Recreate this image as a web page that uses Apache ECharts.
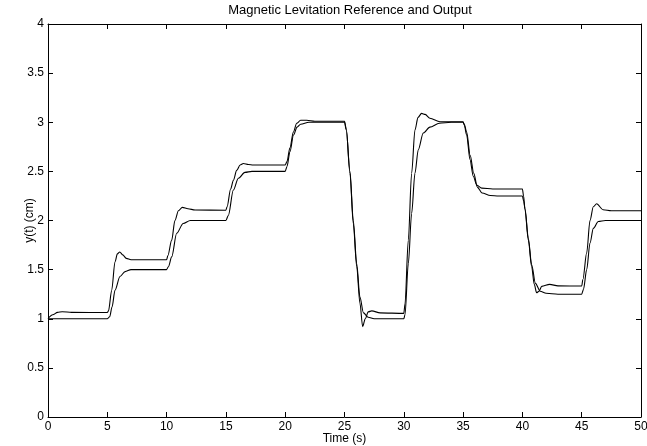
<!DOCTYPE html>
<html>
<head>
<meta charset="utf-8">
<script src="https://cdn.jsdelivr.net/npm/echarts@6/dist/echarts.min.js"></script>
<style>
html,body{margin:0;padding:0;background:#fff;}
#c{width:647px;height:446px;}
</style>
</head>
<body>
<div id="c"></div>
<script>
// Reference (smooth filtered steps)
const refT = [0, 5.0, 5.2, 5.4, 5.65, 6.07, 6.5, 7.0, 10.0, 10.15, 10.43, 10.85, 11.4, 12.0, 15.0, 15.2, 15.63, 16.05, 16.6, 17.2, 20.0, 20.15, 20.4, 20.7, 21.0, 21.3, 22.0, 25.0, 25.15, 25.46, 25.74, 26.03, 26.3, 26.6, 27.0, 27.5, 30.0, 30.1, 30.38, 30.66, 30.94, 31.22, 31.64, 32.2, 33.0, 34.0, 35.0, 35.1, 35.3, 35.6, 35.9, 36.2, 36.6, 37.3, 38.0, 40.0, 40.1, 40.22, 40.5, 40.78, 41.1, 41.5, 42.0, 43.0, 45.0, 45.15, 45.42, 45.7, 45.98, 46.4, 47.0, 50.0];
const refY = [1.0, 1.0, 1.02, 1.12, 1.29, 1.43, 1.48, 1.5, 1.5, 1.53, 1.63, 1.87, 1.97, 2.0, 2.0, 2.05, 2.31, 2.43, 2.49, 2.5, 2.5, 2.55, 2.7, 2.87, 2.95, 2.98, 3.0, 3.0, 2.92, 2.5, 2.0, 1.56, 1.22, 1.06, 1.015, 1.0, 1.0, 1.04, 1.56, 2.07, 2.48, 2.72, 2.89, 2.95, 2.99, 3.0, 3.0, 2.98, 2.9, 2.66, 2.48, 2.34, 2.28, 2.255, 2.25, 2.25, 2.2, 2.12, 1.82, 1.55, 1.36, 1.28, 1.26, 1.25, 1.25, 1.3, 1.5, 1.77, 1.92, 1.99, 2.0, 2.0];
// Output (with overshoot)
const outT = [0, 0.4, 0.8, 1.2, 2.0, 5.0, 5.1, 5.37, 5.65, 5.85, 6.05, 6.3, 6.6, 7.0, 10.0, 10.1, 10.43, 10.7, 11.0, 11.33, 11.8, 12.4, 15.0, 15.1, 15.4, 15.63, 15.91, 16.2, 16.47, 16.9, 17.3, 20.0, 20.15, 20.4, 20.69, 20.97, 21.3, 21.8, 22.5, 25.0, 25.15, 25.46, 25.74, 26.03, 26.3, 26.53, 26.75, 27.0, 27.3, 28.0, 30.0, 30.1, 30.38, 30.66, 30.94, 31.2, 31.5, 31.8, 32.2, 33.05, 35.0, 35.1, 35.3, 35.58, 35.86, 36.15, 36.57, 37.5, 40.0, 40.1, 40.22, 40.5, 40.78, 41.0, 41.2, 41.4, 41.63, 42.3, 43.0, 45.0, 45.1, 45.42, 45.7, 45.98, 46.26, 46.8, 47.5, 50.0];
const outY = [1.0, 1.04, 1.065, 1.072, 1.065, 1.063, 1.08, 1.29, 1.58, 1.66, 1.68, 1.65, 1.615, 1.6, 1.6, 1.64, 1.8, 2.0, 2.1, 2.134, 2.12, 2.107, 2.105, 2.14, 2.32, 2.41, 2.51, 2.565, 2.58, 2.57, 2.565, 2.565, 2.6, 2.74, 2.9, 2.99, 3.02, 3.02, 3.01, 3.01, 2.93, 2.48, 1.97, 1.53, 1.16, 0.92, 1.0, 1.07, 1.08, 1.06, 1.055, 1.15, 1.8, 2.48, 2.92, 3.05, 3.09, 3.08, 3.04, 3.005, 3.005, 2.97, 2.87, 2.62, 2.45, 2.36, 2.33, 2.32, 2.32, 2.25, 2.11, 1.8, 1.53, 1.35, 1.265, 1.28, 1.33, 1.35, 1.335, 1.333, 1.4, 1.67, 2.0, 2.14, 2.17, 2.11, 2.1, 2.1];

const xTicks = [0, 5, 10, 15, 20, 25, 30, 35, 40, 45, 50];
const yTicks = [0, 0.5, 1, 1.5, 2, 2.5, 3, 3.5, 4];

const refData = refT.map((t, i) => [t, refY[i]]);
const outData = outT.map((t, i) => [t, outY[i]]);

const FONT = 'Liberation Sans, Arial, Helvetica, sans-serif';
const chart = echarts.init(document.getElementById('c'), null, {renderer: 'canvas'});

const baseAxisLine = {show: true, onZero: false, lineStyle: {color: '#000', width: 1}};
const tick = {show: true, inside: true, length: 5, lineStyle: {color: '#000', width: 1}};

chart.setOption({
  animation: false,
  backgroundColor: '#fff',
  title: {
    text: 'Magnetic Levitation Reference and Output',
    left: 345,
    textAlign: 'center',
    top: -1,
    textStyle: {fontFamily: FONT, fontSize: 13, fontWeight: 'normal', color: '#000'}
  },
  grid: {left: 48, right: 6, top: 24, bottom: 29, containLabel: false, outerBoundsMode: 'none', show: false},
  xAxis: [{
    type: 'value', min: xTicks[0], max: xTicks[xTicks.length - 1], interval: 5,
    position: 'bottom',
    name: 'Time (s)', nameLocation: 'middle', nameGap: 15.5, nameMoveOverlap: false,
    nameTextStyle: {fontFamily: FONT, fontSize: 12, color: '#000'},
    axisLine: baseAxisLine, axisTick: tick,
    axisLabel: {fontFamily: FONT, fontSize: 12, color: '#000', margin: 4},
    splitLine: {show: false}
  }, {
    type: 'value', min: xTicks[0], max: xTicks[xTicks.length - 1], interval: 5,
    position: 'top',
    axisLine: baseAxisLine, axisTick: tick,
    axisLabel: {show: false}, splitLine: {show: false}
  }],
  yAxis: [{
    type: 'value', min: yTicks[0], max: yTicks[yTicks.length - 1], interval: 0.5,
    position: 'left',
    name: 'y(t) (cm)', nameLocation: 'middle', nameGap: 12, nameMoveOverlap: false,
    nameTextStyle: {fontFamily: FONT, fontSize: 12, color: '#000'},
    axisLine: baseAxisLine, axisTick: tick,
    axisLabel: {fontFamily: FONT, fontSize: 12, color: '#000', margin: 4,
      formatter: v => String(v)},
    splitLine: {show: false}
  }, {
    type: 'value', min: yTicks[0], max: yTicks[yTicks.length - 1], interval: 0.5,
    position: 'right',
    axisLine: baseAxisLine, axisTick: tick,
    axisLabel: {show: false}, splitLine: {show: false}
  }],
  series: [{
    name: 'Reference', type: 'line', data: refData,
    showSymbol: false, symbol: 'none', smooth: 0.3, smoothMonotone: 'x',
    lineStyle: {color: '#000', width: 1.1}
  }, {
    name: 'Output', type: 'line', data: outData,
    showSymbol: false, symbol: 'none', smooth: 0.3, smoothMonotone: 'x',
    lineStyle: {color: '#000', width: 1.1}
  }]
});
</script>
</body>
</html>
